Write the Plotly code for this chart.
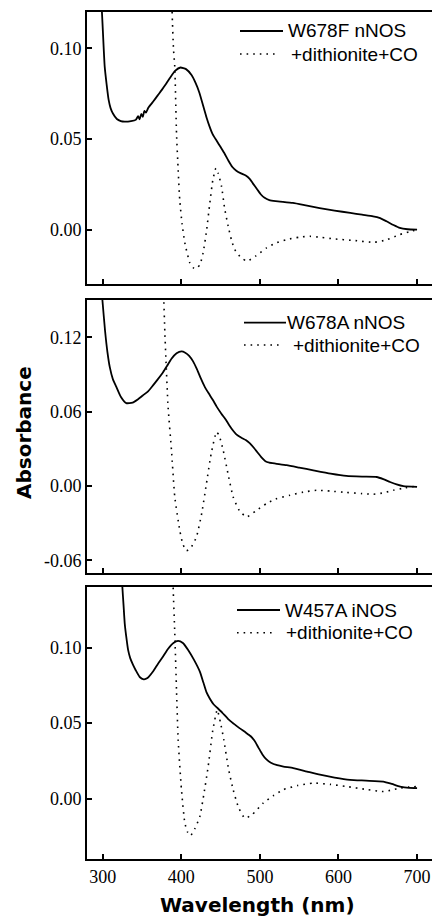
import plotly.graph_objects as go

# ---- W678F nNOS (top panel) ----
wl_678f = [296, 299, 302.5, 305, 307.6, 310, 313, 318, 323, 328, 336, 342, 345, 347, 349, 351, 353,
           355, 358, 364, 370, 375, 380, 385, 392, 399, 406, 413, 418, 423, 428, 432, 436, 440, 445,
           450, 455, 460, 465, 470, 476, 482, 487, 491, 496, 501, 506, 512, 520, 542, 560, 576, 595,
           615, 630, 644, 652, 661, 670, 678, 688, 700]
abs_678f = [0.14, 0.12, 0.09, 0.08, 0.0714, 0.067, 0.064, 0.061, 0.0598, 0.0595, 0.0598, 0.0605,
            0.0625, 0.0608, 0.0638, 0.0622, 0.0655, 0.0645, 0.0672, 0.0705, 0.074, 0.0769, 0.080,
            0.0833, 0.0875, 0.0894, 0.0885, 0.0852, 0.081, 0.0755, 0.068, 0.062, 0.0568, 0.0525,
            0.049, 0.0455, 0.042, 0.038, 0.0345, 0.0325, 0.031, 0.0298, 0.028, 0.0255, 0.0225,
            0.0195, 0.0175, 0.0163, 0.0157, 0.0147, 0.0132, 0.0119, 0.0105, 0.0092, 0.0082, 0.0073,
            0.0065, 0.0046, 0.0025, 0.0009, 0.0002, 0.0]
wl_678f_co = [386, 388.3, 390, 391.7, 393.9, 396, 398, 401, 404.5, 410.8, 415, 419.4, 424, 427.8, 432,
              436.3, 440, 444, 447, 451.2, 455, 459.7, 464, 468, 476, 483.8, 495, 508.5, 520, 534, 550,
              563.7, 578, 593.4, 620, 644.3, 660, 678.3, 690, 700]
abs_678f_co = [0.16, 0.12, 0.10, 0.0897, 0.0531, 0.033, 0.0165, 0.003, -0.0073, -0.0183, -0.021,
               -0.0216, -0.019, -0.0128, -0.001, 0.0147, 0.027, 0.0339, 0.031, 0.0238, 0.012, 0.0018,
               -0.006, -0.011, -0.0155, -0.0174, -0.0145, -0.0101, -0.0075, -0.0055, -0.0042, -0.0037,
               -0.0043, -0.0051, -0.006, -0.007, -0.0058, -0.0027, -0.0012, 0.0]

# ---- W678A nNOS (middle panel) ----
wl_678a = [297, 299.6, 303, 306, 309, 313, 317.5, 323, 330, 338, 345, 351, 358, 364, 370, 376.8, 382,
           387.5, 394, 400.2, 405, 410, 415, 420, 425, 430, 435, 440, 445, 451, 456, 461, 466, 470,
           476, 482, 487, 492, 497, 502, 507, 512, 520, 534, 550, 568, 590, 610, 630, 648.7, 657,
           665.6, 674, 682.6, 700]
abs_678a = [0.17, 0.15, 0.125, 0.108, 0.0958, 0.086, 0.0797, 0.072, 0.0668, 0.0672, 0.070, 0.073,
            0.0765, 0.0811, 0.086, 0.0918, 0.097, 0.1026, 0.107, 0.1085, 0.1075, 0.105, 0.1005,
            0.094, 0.0865, 0.0797, 0.0745, 0.0695, 0.064, 0.0583, 0.054, 0.049, 0.0445, 0.0416,
            0.039, 0.037, 0.0345, 0.031, 0.027, 0.023, 0.020, 0.0188, 0.018, 0.0167, 0.0148, 0.0126,
            0.010, 0.0081, 0.0075, 0.0072, 0.0055, 0.0032, 0.0012, -0.0002, -0.0008]
wl_678a_co = [375, 377.7, 379, 380.3, 383.2, 387.5, 391.7, 398, 402, 406.6, 412, 419.3, 426, 432, 438,
              444.8, 448, 453.3, 460, 466, 474, 483, 495, 508.5, 520, 538.2, 555, 572.2, 590, 610.4,
              630, 644.3, 658, 669.8, 685, 700]
abs_678a_co = [0.18, 0.15, 0.125, 0.104, 0.0636, 0.0288, -0.0089, -0.0357, -0.047, -0.0523, -0.05,
               -0.0411, -0.022, 0.0019, 0.026, 0.0435, 0.041, 0.0288, 0.008, -0.0089, -0.02, -0.025,
               -0.02, -0.0142, -0.0105, -0.0075, -0.005, -0.0035, -0.0042, -0.0053, -0.0062, -0.0067,
               -0.0055, -0.0035, -0.0015, 0.0]

# ---- W457A iNOS (bottom panel) ----
wl_457a = [323, 325, 326.5, 328, 330, 332.3, 335, 338.6, 342, 347, 352.2, 357, 364, 370, 376.8, 383,
           390, 395.9, 402, 408.7, 416, 423.6, 428, 432, 436, 441, 446, 452, 460, 467, 474, 482, 488,
           493, 498, 503, 508, 514, 522, 530, 542.4, 560, 576.4, 595, 614.6, 635, 657, 668, 678.3,
           690, 700]
abs_457a = [0.16, 0.14, 0.128, 0.116, 0.107, 0.0984, 0.093, 0.0885, 0.085, 0.0805, 0.079, 0.0798,
            0.0841, 0.089, 0.094, 0.099, 0.103, 0.1044, 0.103, 0.0984, 0.092, 0.0841, 0.077, 0.0705,
            0.0665, 0.0625, 0.060, 0.057, 0.0525, 0.0495, 0.0467, 0.0438, 0.0415, 0.0385, 0.034,
            0.0295, 0.0262, 0.0238, 0.0222, 0.0213, 0.0203, 0.018, 0.0159, 0.014, 0.0125, 0.012,
            0.0114, 0.0098, 0.0081, 0.0072, 0.0071]
wl_457a_co = [388, 389.6, 391.7, 393.9, 396, 400.2, 404.5, 408, 411.7, 417, 423.6, 429, 434.2, 440,
              445.7, 450, 454.1, 460, 466, 473, 480.9, 490, 504.2, 517, 529.7, 548, 568, 590, 610.4,
              635, 657, 668, 678.3, 690, 700]
abs_457a_co = [0.17, 0.14, 0.1094, 0.072, 0.039, 0.006, -0.016, -0.022, -0.0244, -0.02, -0.0117,
               0.004, 0.0213, 0.045, 0.0588, 0.05, 0.039, 0.02, 0.006, -0.006, -0.0128, -0.0105,
               -0.0029, 0.002, 0.006, 0.0088, 0.0104, 0.0095, 0.0081, 0.0062, 0.0048, 0.0058, 0.0071,
               0.0078, 0.0081]

# labels
names_native = ["W678F nNOS", "W678A nNOS", "W457A iNOS"]
name_co = "+dithionite+CO"
x_ticks = [300, 400, 500, 600, 700]
y_ticks = [[0.0, 0.05, 0.10], [-0.06, 0.0, 0.06, 0.12], [0.0, 0.05, 0.10]]
y_ticktext = [["0.00", "0.05", "0.10"], ["-0.06", "0.00", "0.06", "0.12"], ["0.00", "0.05", "0.10"]]
y_ranges = [[-0.03, 0.12], [-0.07, 0.15], [-0.04, 0.14]]

W, H = 432, 918
ML = 87
PW = W - ML
y_domains_px = [(12, 284), (300, 572.7), (587, 859.3)]

# per-panel key layout: (sample x0, solid x1, dotted x1, text x solid, text x dotted, row1 y, row2 y)
key_px = [
    (240, 283, 278, 286, 289, 31, 54),
    (244, 286, 283, 285, 291, 322.7, 345),
    (237, 280, 275, 283, 284, 610, 632.7),
]

series = [
    (wl_678f, abs_678f, wl_678f_co, abs_678f_co),
    (wl_678a, abs_678a, wl_678a_co, abs_678a_co),
    (wl_457a, abs_457a, wl_457a_co, abs_457a_co),
]

tick_font = dict(family="Liberation Serif", size=18, color="black")
sans = "Liberation Sans"
bold_sans = "DejaVu Sans"
dotted = "1.6px,5px"


def px_x(p):
    return (p - ML) / PW


def px_y(p):
    return 1 - p / H


fig = go.Figure()
layout = dict(
    width=W, height=H,
    margin=dict(l=ML, r=0, t=0, b=0),
    paper_bgcolor="white", plot_bgcolor="white",
    showlegend=False,
)
shapes, annotations = [], []

for i, (wn, an, wc, ac) in enumerate(series):
    k = "" if i == 0 else str(i + 1)
    fig.add_trace(go.Scatter(
        x=wn, y=an, mode="lines", name=names_native[i],
        line=dict(color="black", width=1.8, shape="spline", smoothing=0.5),
        xaxis="x" + k, yaxis="y" + k,
    ))
    fig.add_trace(go.Scatter(
        x=wc, y=ac, mode="lines", name=name_co,
        line=dict(color="black", width=1.6, dash=dotted, shape="spline", smoothing=0.5),
        xaxis="x" + k, yaxis="y" + k,
    ))
    top, bot = y_domains_px[i]
    layout["xaxis" + k] = dict(
        domain=[0, 1], range=[280, 719], anchor="y" + k,
        showline=True, linewidth=2, linecolor="black", mirror=True,
        ticks="inside", ticklen=5, tickwidth=1.5, tickcolor="black",
        tickvals=x_ticks, showticklabels=(i == 2), tickfont=tick_font,
        showgrid=False, zeroline=False,
    )
    layout["yaxis" + k] = dict(
        domain=[px_y(bot), px_y(top)], range=y_ranges[i], anchor="x" + k,
        showline=True, linewidth=2, linecolor="black", mirror=False,
        ticks="inside", ticklen=5, tickwidth=1.5, tickcolor="black",
        tickvals=y_ticks[i], ticktext=y_ticktext[i], tickfont=tick_font,
        showgrid=False, zeroline=False,
    )

    # key: line samples and labels
    x0, x1s, x1d, tx1, tx2, r1, r2 = key_px[i]
    shapes.append(dict(type="line", xref="paper", yref="paper",
                       x0=px_x(x0), x1=px_x(x1s), y0=px_y(r1), y1=px_y(r1),
                       line=dict(color="black", width=1.8)))
    shapes.append(dict(type="line", xref="paper", yref="paper",
                       x0=px_x(x0), x1=px_x(x1d), y0=px_y(r2), y1=px_y(r2),
                       line=dict(color="black", width=1.6, dash=dotted)))
    for txt, tx, ty in ((names_native[i], tx1, r1), (name_co, tx2, r2)):
        annotations.append(dict(text=txt, xref="paper", yref="paper",
                                x=px_x(tx), y=px_y(ty), xanchor="left", yanchor="middle",
                                showarrow=False, font=dict(family=sans, size=19, color="black")))

annotations += [
    dict(text="<b>Absorbance</b>", textangle=-90, xref="paper", yref="paper",
         x=px_x(24), y=px_y(433), xanchor="center", yanchor="middle",
         showarrow=False, font=dict(family=bold_sans, size=20, color="black")),
    dict(text="<b>Wavelength (nm)</b>", xref="paper", yref="paper",
         x=px_x(257), y=px_y(905), xanchor="center", yanchor="middle",
         showarrow=False, font=dict(family=bold_sans, size=20, color="black")),
]
layout["shapes"] = shapes
layout["annotations"] = annotations

fig.update_layout(**layout)
fig.write_html("out.html")
